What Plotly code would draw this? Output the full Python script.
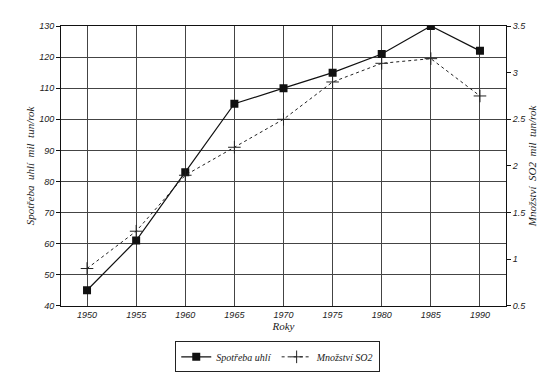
import plotly.graph_objects as go

years = [1950, 1955, 1960, 1965, 1970, 1975, 1980, 1985, 1990]
coal = [45, 61, 83, 105, 110, 115, 121, 130, 122]
so2 = [0.9, 1.3, 1.9, 2.2, 2.5, 2.9, 3.1, 3.15, 2.75]
x_ticks = years
y_ticks = [40, 50, 60, 70, 80, 90, 100, 110, 120, 130]
y2_ticks = [0.5, 1, 1.5, 2, 2.5, 3, 3.5]

tick_font = dict(family="Liberation Sans", size=9, color="#222", style="italic")
title_font = dict(family="Liberation Serif", size=11, color="#222", style="italic")
legend_font = dict(family="Liberation Serif", size=10, color="#222", style="italic")

fig = go.Figure()
fig.add_trace(go.Scatter(
    x=years, y=coal, name="Spotřeba uhlí", mode="lines+markers",
    line=dict(color="#111", width=1.2),
    marker=dict(symbol="square", size=8, color="#111"),
))
fig.add_trace(go.Scatter(
    x=years, y=so2, name="Množství SO2", mode="lines+markers", yaxis="y2",
    line=dict(color="#222", width=1, dash="dot"),
    marker=dict(symbol="cross-thin", size=9, line=dict(color="#222", width=1)),
))

fig.update_layout(
    width=550, height=378,
    margin=dict(l=61, r=44, t=26, b=71),
    paper_bgcolor="white", plot_bgcolor="white",
    showlegend=True,
    legend=dict(
        orientation="h", xref="container", yref="container",
        x=0.505, y=0.097, xanchor="center", yanchor="top",
        bordercolor="#222", borderwidth=1,
        font=legend_font, itemwidth=30, tracegroupgap=0,
    ),
    xaxis=dict(
        range=[1947.35, 1992.65], tickvals=x_ticks, ticktext=[str(v) for v in x_ticks],
        showgrid=True, gridcolor="#444", gridwidth=1,
        showline=True, linecolor="#111", linewidth=1, mirror=True,
        ticks="", tickfont=tick_font, zeroline=False,
        title=dict(text="Roky", font=title_font, standoff=2),
    ),
    yaxis=dict(
        range=[40, 130], tickvals=y_ticks,
        showgrid=True, gridcolor="#444", gridwidth=1,
        showline=True, linecolor="#111", linewidth=1,
        ticks="outside", ticklen=4, tickcolor="#111", tickfont=tick_font, zeroline=False,
        title=dict(text="Spotřeba  uhlí  mil  tun/rok", font=title_font, standoff=2),
    ),
    yaxis2=dict(
        range=[0.5, 3.5], tickvals=y2_ticks, ticktext=[str(v) for v in y2_ticks],
        overlaying="y", side="right", showgrid=False,
        showline=True, linecolor="#111", linewidth=1,
        ticks="outside", ticklen=4, tickcolor="#111", tickfont=tick_font, zeroline=False,
        title=dict(text="Množství  SO2  mil  tun/rok", font=title_font, standoff=3),
    ),
)

fig.write_html(
    "out.html",
    config={"displayModeBar": False},
    post_script="document.body.style.margin='0';document.body.style.overflow='hidden';",
)
